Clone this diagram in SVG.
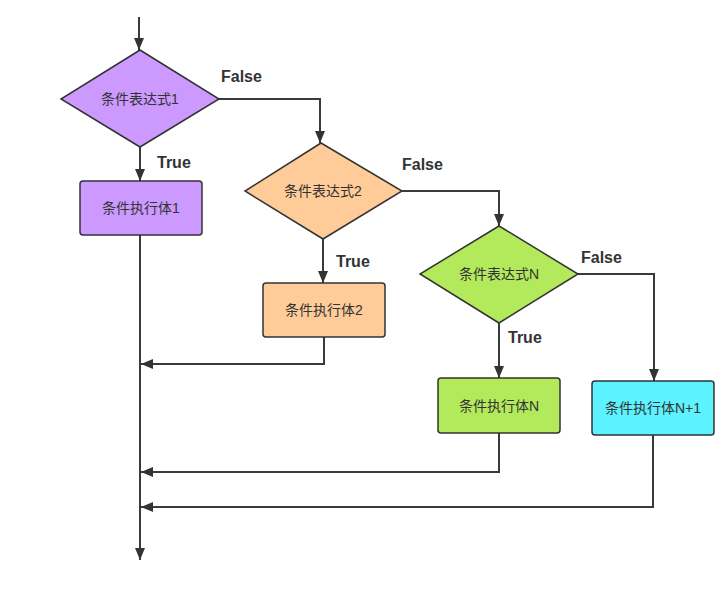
<svg xmlns="http://www.w3.org/2000/svg" width="723" height="603" viewBox="0 0 723 603">
<style>
.node{stroke:#333;stroke-width:1.5}
.t{font-family:"Liberation Sans","Noto Sans CJK SC",sans-serif;font-size:14px;fill:#333;text-anchor:middle;dominant-baseline:central}
.lbl{font-family:"Liberation Sans",sans-serif;font-size:16px;font-weight:bold;fill:#333}
.c{fill:none;stroke:#3a3a3a;stroke-width:2}
</style>
<defs>
<marker id="ah" markerUnits="userSpaceOnUse" markerWidth="12" markerHeight="10" refX="12" refY="5" orient="auto">
<path d="M0,0 L12,5 L0,10 z" fill="#333"/>
</marker>
</defs>
<rect width="723" height="603" fill="#fff"/>
<g id="connectors">
<path class="c" d="M139,17 V50" marker-end="url(#ah)"/>
<path class="c" d="M140,147 V181" marker-end="url(#ah)"/>
<path class="c" d="M219,99 H320 V143" marker-end="url(#ah)"/>
<path class="c" d="M402,191 H499 V226" marker-end="url(#ah)"/>
<path class="c" d="M323,239 V283" marker-end="url(#ah)"/>
<path class="c" d="M578,274 H654 V381" marker-end="url(#ah)"/>
<path class="c" d="M499,323 V378" marker-end="url(#ah)"/>
<path class="c" d="M140,235 V560" marker-end="url(#ah)"/>
<path class="c" d="M324,337 V364 H141" marker-end="url(#ah)"/>
<path class="c" d="M499,433 V472 H141" marker-end="url(#ah)"/>
<path class="c" d="M653,435 V507 H141" marker-end="url(#ah)"/>
</g>
<g id="labels">
<text class="lbl" x="221" y="82">False</text>
<text class="lbl" x="157" y="168">True</text>
<text class="lbl" x="402" y="170">False</text>
<text class="lbl" x="336" y="267">True</text>
<text class="lbl" x="581" y="263">False</text>
<text class="lbl" x="508" y="343">True</text>
</g>
<g id="cond1">
<polygon class="node" fill="#cc99ff" points="140,50 219,99 140,147 61,99"/>
<text class="t" x="140" y="99">条件表达式1</text>
</g>
<g id="body1">
<rect class="node" fill="#cc99ff" x="80" y="181" width="122" height="54" rx="3"/>
<text class="t" x="141" y="208">条件执行体1</text>
</g>
<g id="cond2">
<polygon class="node" fill="#ffcc99" points="321,143 402,191 323,239 245,191"/>
<text class="t" x="323" y="191">条件表达式2</text>
</g>
<g id="body2">
<rect class="node" fill="#ffcc99" x="263" y="283" width="122" height="54" rx="3"/>
<text class="t" x="324" y="310">条件执行体2</text>
</g>
<g id="condN">
<polygon class="node" fill="#b3ea5c" points="499,226 578,274 499,323 420,274"/>
<text class="t" x="499" y="274">条件表达式N</text>
</g>
<g id="bodyN">
<rect class="node" fill="#b3ea5c" x="438" y="378" width="122" height="55" rx="3"/>
<text class="t" x="499" y="406">条件执行体N</text>
</g>
<g id="bodyN1">
<rect class="node" fill="#5cf2ff" x="592" y="381" width="122" height="54" rx="3"/>
<text class="t" x="653" y="408">条件执行体N+1</text>
</g>
</svg>
